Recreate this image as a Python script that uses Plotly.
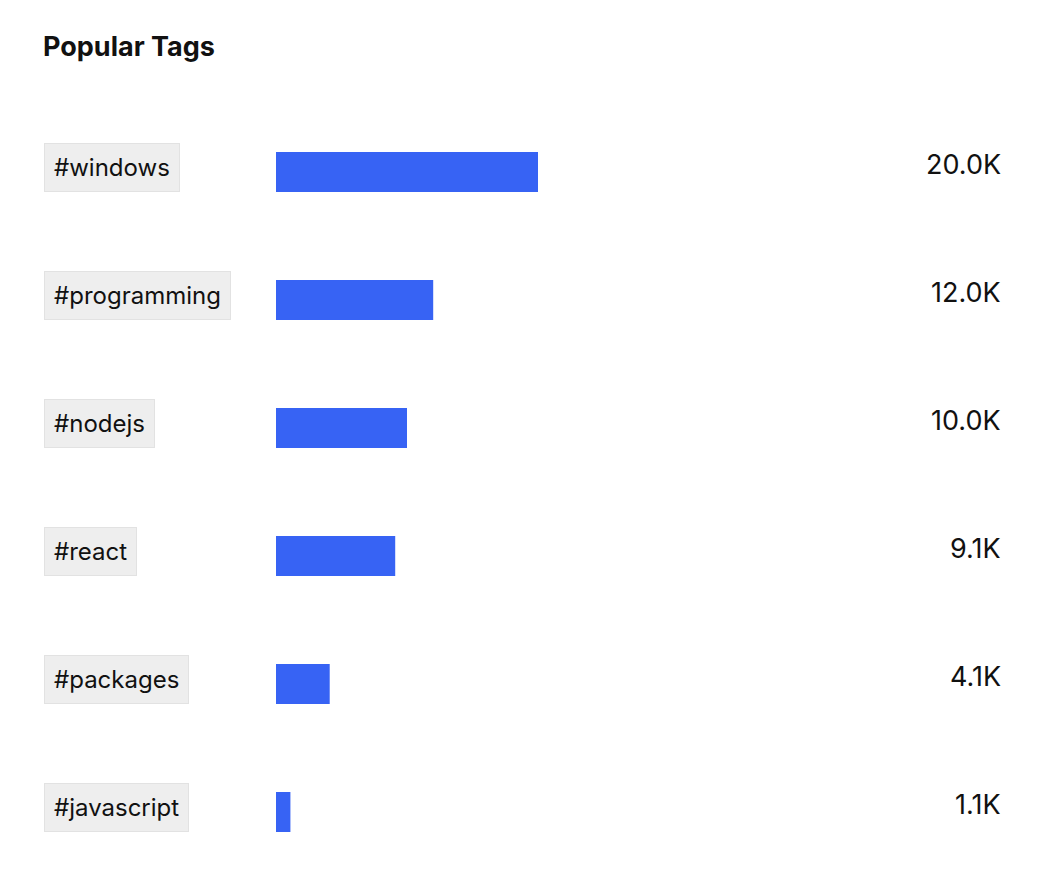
import plotly.graph_objects as go

tags = ["#windows", "#programming", "#nodejs", "#react", "#packages", "#javascript"]
counts_k = [20.0, 12.0, 10.0, 9.1, 4.1, 1.1]
value_labels = ["20.0K", "12.0K", "10.0K", "9.1K", "4.1K", "1.1K"]

W, H = 1054, 882
left, right_edge = 276, 1000
px_per_k = 13.1
plot_w = right_edge - left

fig = go.Figure(go.Bar(
    x=counts_k, y=tags, orientation="h",
    marker=dict(color="#3763F4", line=dict(width=0)),
    width=40 / 128, hoverinfo="skip",
))

annotations = []
for t, lab in zip(tags, value_labels):
    annotations.append(dict(
        x=(44 - left) / plot_w, xref="paper", y=t, yref="y",
        xanchor="left", yanchor="middle", yshift=5,
        text=t, showarrow=False,
        font=dict(family="Inter", size=24, color="#111111"),
        bgcolor="#EEEEEE", bordercolor="#E2E2E2", borderwidth=1, borderpad=9,
    ))
    annotations.append(dict(
        x=1, xref="paper", y=t, yref="y",
        xanchor="right", yanchor="middle", yshift=8, xshift=3,
        text=lab, showarrow=False,
        font=dict(family="Inter", size=27, color="#111111"),
    ))

annotations.append(dict(
    x=(44 - left) / plot_w, xref="paper", y=1, yref="paper",
    xanchor="left", yanchor="middle", yshift=(108 - 46), xshift=-3,
    text="<b>Popular Tags</b>", showarrow=False,
    font=dict(family="Inter", size=27, color="#111111"),
))

fig.update_layout(
    width=W, height=H,
    margin=dict(l=left, r=W - right_edge, t=108, b=H - 108 - 768),
    paper_bgcolor="white", plot_bgcolor="white",
    showlegend=False,
    xaxis=dict(range=[0, plot_w / px_per_k], visible=False, fixedrange=True),
    yaxis=dict(autorange="reversed", visible=False, fixedrange=True),
    annotations=annotations,
    font=dict(family="Inter"),
)

fig.write_html("out.html", config={"displayModeBar": False})
